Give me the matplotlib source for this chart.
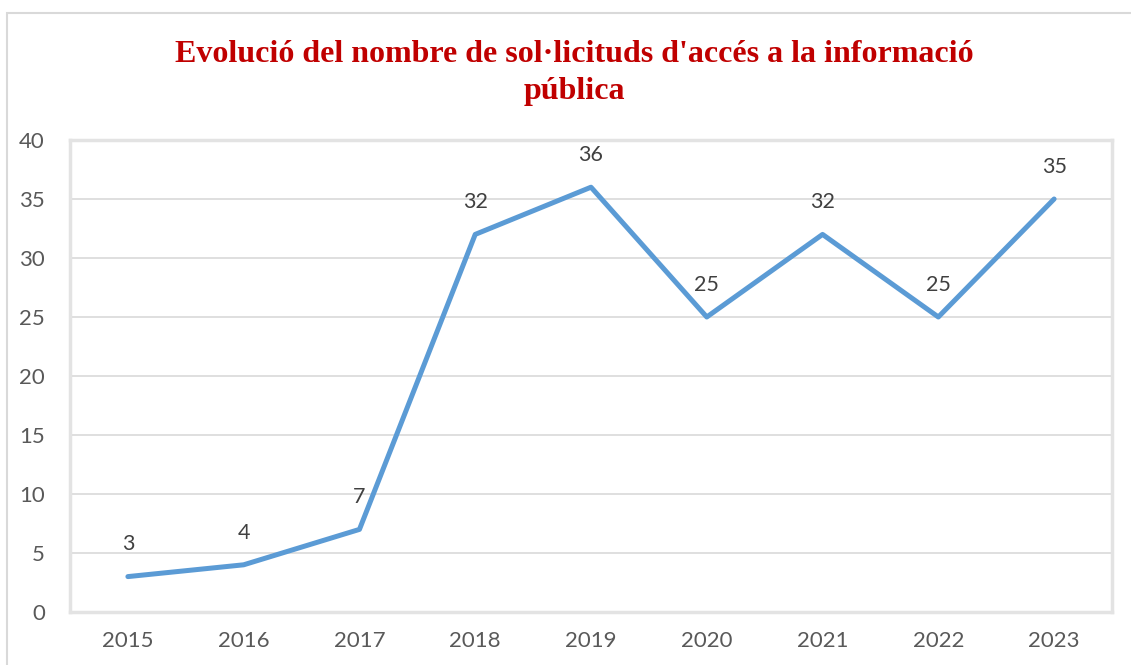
import matplotlib.pyplot as plt
from matplotlib.patches import Rectangle

# dades
anys = ['2015', '2016', '2017', '2018', '2019', '2020', '2021', '2022', '2023']
sollicituds = [3, 4, 7, 32, 36, 25, 32, 25, 35]
titol = "Evolució del nombre de sol·licituds d'accés a la informació\npública"

W, H = 1131, 665
fig = plt.figure(figsize=(W / 100, H / 100), dpi=100)
ax = fig.add_axes([70 / W, 1 - 612 / H, (1112 - 70) / W, (612 - 140) / H])

# marc exterior
fig.patches.append(Rectangle((7 / W, -0.01), 1.2, 1 - 13 / H + 0.01, transform=fig.transFigure,
                             fill=False, edgecolor='#d9d9d9', linewidth=1.5))

x = range(len(anys))
ax.plot(x, sollicituds, color='#5B9BD5', linewidth=3.6, solid_capstyle='round',
        solid_joinstyle='round', zorder=3)
for i, v in zip(x, sollicituds):
    ax.annotate(str(v), (i, v), xytext=(0, 16), textcoords='offset points',
                ha='center', va='bottom', fontsize=15.5, color='#404040', family='Lato')

ax.set_xlim(-0.5, len(anys) - 0.5)
ax.set_ylim(0, 40)
ax.set_yticks(range(0, 41, 5))
ax.set_xticks(list(x))
ax.set_xticklabels(anys)
ax.grid(axis='y', color='#d9d9d9', linewidth=1.2)
ax.set_axisbelow(True)
for s in ax.spines.values():
    s.set_color('#e3e3e3')
    s.set_linewidth(2.5)
ax.tick_params(length=0, labelsize=16, labelcolor='#595959', pad=14)
ax.tick_params(axis='y', pad=18)
for lab in ax.get_xticklabels() + ax.get_yticklabels():
    lab.set_family('Lato')

fig.text(574 / W, 1 - 73 / H, titol, ha='center', va='center', fontsize=23,
         fontweight='bold', color='#C00000', family='Liberation Serif', linespacing=1.35)

fig.savefig('out.png', dpi=100)
